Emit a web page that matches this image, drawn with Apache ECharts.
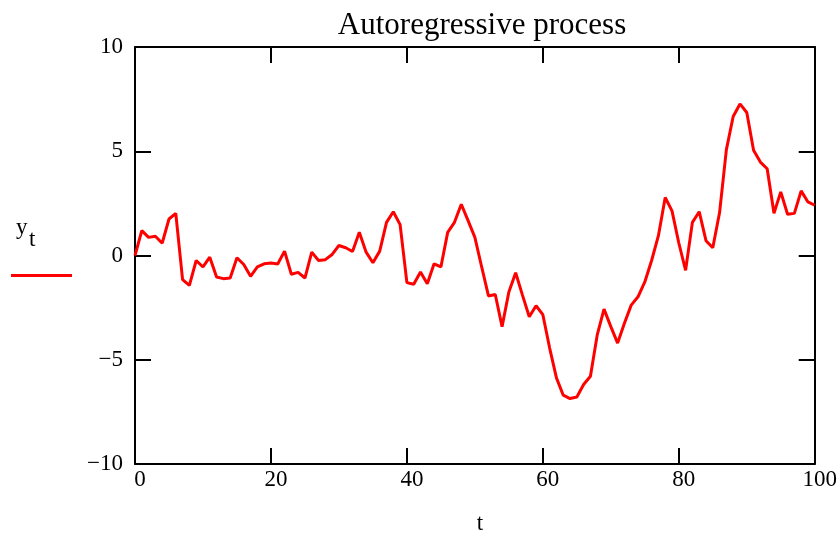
<!DOCTYPE html>
<html>
<head>
<meta charset="utf-8">
<script src="https://cdn.jsdelivr.net/npm/echarts@6/dist/echarts.min.js"></script>
<style>html,body{margin:0;padding:0;background:#fff;overflow:hidden}#c{width:840px;height:540px}</style>
</head>
<body>
<div id="c"></div>
<script>
const titleText = "Autoregressive process";
const xName = "t";
const seriesName = "y";
const seriesSub = "t";
const xTicks = [0, 20, 40, 60, 80, 100];
const yTicks = [-10, -5, 0, 5, 10];
const yValues = [
  0, 1.19, 0.87, 0.92, 0.59, 1.75, 2.02, -1.16, -1.43, -0.24,
  -0.55, -0.08, -1.03, -1.11, -1.08, -0.11, -0.43, -1.0, -0.55, -0.4,
  -0.36, -0.41, 0.21, -0.9, -0.81, -1.08, 0.16, -0.24, -0.2, 0.05,
  0.48, 0.37, 0.19, 1.11, 0.16, -0.35, 0.21, 1.59, 2.1, 1.48,
  -1.3, -1.38, -0.79, -1.35, -0.4, -0.55, 1.11, 1.59, 2.46, 1.67,
  0.87, -0.55, -1.94, -1.87, -3.41, -1.75, -0.83, -1.9, -2.94, -2.41,
  -2.84, -4.44, -5.87, -6.7, -6.86, -6.79, -6.19, -5.79, -3.81, -2.57,
  -3.41, -4.2, -3.25, -2.38, -1.98, -1.27, -0.24, 0.95, 2.78, 2.14,
  0.6, -0.71, 1.59, 2.1, 0.71, 0.37, 2.06, 5.08, 6.67, 7.27,
  6.86, 5.05, 4.48, 4.16, 2.03, 3.05, 1.98, 2.02, 3.1, 2.57,
  2.41
];

const FONT = "Liberation Serif";
const chart = echarts.init(document.getElementById('c'), null, {renderer: 'canvas', width: 840, height: 540});
const axLine = {show: true, onZero: false, lineStyle: {color: '#000', width: 2}};
const axTick = {show: true, inside: true, length: 16, lineStyle: {color: '#000', width: 2}};
const fmt = v => String(v).replace('-', '\u2212');

chart.setOption({
  animation: false,
  backgroundColor: '#fff',
  title: {
    text: titleText, left: 477, top: 5, textAlign: 'center',
    textStyle: {fontFamily: FONT, fontSize: 31, fontWeight: 'normal', color: '#000'}
  },
  grid: {left: 135, right: 24, top: 47, bottom: 73},
  xAxis: [{
    type: 'value', min: xTicks[0], max: xTicks[xTicks.length - 1], interval: 20,
    position: 'bottom',
    axisLine: axLine, axisTick: axTick, splitLine: {show: false},
    axisLabel: {fontFamily: FONT, fontSize: 23, color: '#000', margin: 4, padding: [0, 0, 0, 10], formatter: fmt},
    name: xName, nameLocation: 'middle', nameGap: 48,
    nameTextStyle: {fontFamily: FONT, fontSize: 23, color: '#000', padding: [0, 0, 0, 10]}
  }, {
    type: 'value', min: xTicks[0], max: xTicks[xTicks.length - 1], interval: 20,
    position: 'top',
    axisLine: axLine, axisTick: axTick, splitLine: {show: false}, axisLabel: {show: false}
  }],
  yAxis: [{
    type: 'value', min: yTicks[0], max: yTicks[yTicks.length - 1], interval: 5,
    position: 'left',
    axisLine: axLine, axisTick: axTick, splitLine: {show: false},
    axisLabel: {fontFamily: FONT, fontSize: 23, color: '#000', margin: 12, padding: [4, 0, 0, 0], formatter: fmt}
  }, {
    type: 'value', min: yTicks[0], max: yTicks[yTicks.length - 1], interval: 5,
    position: 'right',
    axisLine: axLine, axisTick: axTick, splitLine: {show: false}, axisLabel: {show: false}
  }],
  legend: {
    show: true, left: 11, top: 274, padding: 0, itemWidth: 61, itemHeight: 3, icon: 'rect',
    formatter: () => '', itemGap: 0,
    data: [{name: seriesName + seriesSub}]
  },
  graphic: [
    {type: 'text', left: 16, top: 216, style: {text: seriesName, fontFamily: FONT, fontSize: 23, fill: '#000'}},
    {type: 'text', left: 29, top: 228, style: {text: seriesSub, fontFamily: FONT, fontSize: 23, fill: '#000'}}
  ],
  series: [{
    name: seriesName + seriesSub,
    type: 'line', xAxisIndex: 0, yAxisIndex: 0,
    showSymbol: false, symbol: 'none',
    lineStyle: {color: '#ff0000', width: 3},
    itemStyle: {color: '#ff0000'},
    data: yValues.map((v, i) => [i, v])
  }]
});
</script>
</body>
</html>
